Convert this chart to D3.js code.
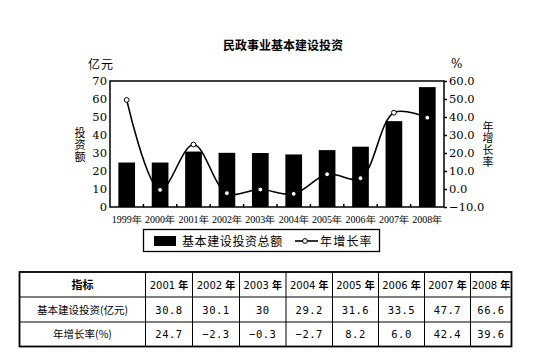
<!DOCTYPE html>
<html><head><meta charset="utf-8">
<script src="https://cdn.jsdelivr.net/npm/d3@7"></script>
<style>
html,body{margin:0;padding:0;background:#fff;}
svg{display:block;}
.serif{font-family:'Liberation Serif','Times New Roman',serif;}
.dserif{font-family:'DejaVu Serif',serif;}
.vert{writing-mode:vertical-rl;text-orientation:upright;}
</style></head>
<body>
<svg id="c" width="554" height="356"></svg>
<script>
const years = ["1999年","2000年","2001年","2002年","2003年","2004年","2005年","2006年","2007年","2008年"];
const investment = [24.7, 24.7, 30.8, 30.1, 30, 29.2, 31.6, 33.5, 47.7, 66.6];
const growth = [49.5, -0.5, 24.7, -2.3, -0.3, -2.7, 8.2, 6.0, 42.4, 39.6];
const leftTicks = [0,10,20,30,40,50,60,70];
const rightTicks = [-10,0,10,20,30,40,50,60];
const tableYears = ["2001 年","2002 年","2003 年","2004 年","2005 年","2006 年","2007 年","2008 年"];
const tableInvest = ["30.8","30.1","30","29.2","31.6","33.5","47.7","66.6"];
const tableGrowth = ["24.7","−2.3","−0.3","−2.7","8.2","6.0","42.4","39.6"];
const rowLabels = ["指标","基本建设投资(亿元)","年增长率(%)"];

const svg = d3.select("#c");
const CJK = "'Noto Sans CJK SC', sans-serif";
const L = 110, R = 444, T = 81, B = 207;

const x = d3.scaleBand().domain(years).range([L, R]).paddingInner(0.5).paddingOuter(0.25);
const yL = d3.scaleLinear().domain([0, 70]).range([B, T]);
const yR = d3.scaleLinear().domain([-10, 60]).range([B, T]);

// title
svg.append("text").attr("x", 283).attr("y", 50).attr("text-anchor", "middle")
  .style("font-family", CJK).attr("font-weight", "bold").attr("font-size", 12)
  .text("民政事业基本建设投资");

// bars
svg.append("g").selectAll("rect").data(investment).join("rect")
  .attr("x", (d, i) => x(years[i])).attr("width", x.bandwidth())
  .attr("y", d => yL(d)).attr("height", d => yL(0) - yL(d)).attr("fill", "#000");

// line
const line = d3.line().x((d, i) => x(years[i]) + x.bandwidth() / 2).y(d => yR(d))
  .curve(d3.curveCatmullRom.alpha(0.5));
svg.append("path").datum(growth).attr("d", line).attr("fill", "none")
  .attr("stroke", "#000").attr("stroke-width", 1.6);
svg.append("g").selectAll("circle").data(growth).join("circle")
  .attr("cx", (d, i) => x(years[i]) + x.bandwidth() / 2).attr("cy", d => yR(d))
  .attr("r", 2.4).attr("fill", "#fff").attr("stroke", "#000").attr("stroke-width", 1);

// frame
svg.append("rect").attr("x", L).attr("y", T).attr("width", R - L).attr("height", B - T)
  .attr("fill", "none").attr("stroke", "#000").attr("stroke-width", 1.5);

// left axis
const gl = svg.append("g").attr("transform", `translate(${L},0)`)
  .call(d3.axisLeft(yL).tickValues(leftTicks).tickSize(0).tickPadding(3));
gl.attr("font-family", null).attr("font-size", null);
gl.select(".domain").remove();
gl.selectAll("text").attr("class", "dserif").style("font-size", "11.5px").attr("fill", "#000");

// right axis
const gr = svg.append("g").attr("transform", `translate(${R},0)`)
  .call(d3.axisRight(yR).tickValues(rightTicks).tickFormat(d3.format(".1f")).tickSize(3).tickPadding(2));
gr.attr("font-family", null).attr("font-size", null);
gr.select(".domain").remove();
gr.selectAll("line").attr("stroke-width", 1.5);
gr.selectAll("text").attr("class", "dserif").style("font-size", "11.5px").attr("fill", "#000");

// bottom axis
const gb = svg.append("g").attr("transform", `translate(0,${B})`)
  .call(d3.axisBottom(x).tickSize(0).tickPadding(9));
gb.attr("font-family", null).attr("font-size", null);
gb.select(".domain").remove();
gb.selectAll("text").attr("class", "serif").style("font-size", "10px").attr("fill", "#000");
// inner ticks at category boundaries
svg.append("g").selectAll("line").data(years.slice(1)).join("line")
  .attr("x1", d => x(d) - x.step() * 0.25).attr("x2", d => x(d) - x.step() * 0.25)
  .attr("y1", B).attr("y2", B - 3).attr("stroke", "#000").attr("stroke-width", 1.5);

// units and axis titles
svg.append("text").attr("x", 88).attr("y", 69).style("font-family", CJK).attr("font-size", 12)
  .attr("letter-spacing", 1).text("亿元");
svg.append("text").attr("x", 451).attr("y", 68).attr("class", "dserif").attr("font-size", 12).text("%");
svg.append("text").attr("class", "vert").attr("x", 80).attr("y", 127)
  .style("font-family", CJK).attr("font-size", 11).attr("letter-spacing", 1).text("投资额");
svg.append("text").attr("class", "vert").attr("x", 488).attr("y", 121)
  .style("font-family", CJK).attr("font-size", 11).attr("letter-spacing", 0.7).text("年增长率");

// legend
const lg = svg.append("g");
lg.append("rect").attr("x", 143.5).attr("y", 229.5).attr("width", 236).attr("height", 22)
  .attr("fill", "#fff").attr("stroke", "#000").attr("stroke-width", 1.3);
lg.append("rect").attr("x", 154).attr("y", 236).attr("width", 22).attr("height", 10).attr("fill", "#000");
lg.append("text").attr("x", 182).attr("y", 245.5).style("font-family", CJK).attr("font-size", 12)
  .attr("letter-spacing", 0.6).text("基本建设投资总额");
lg.append("line").attr("x1", 295).attr("x2", 318).attr("y1", 241).attr("y2", 241)
  .attr("stroke", "#000").attr("stroke-width", 1.6);
lg.append("circle").attr("cx", 305).attr("cy", 241).attr("r", 2.4).attr("fill", "#fff")
  .attr("stroke", "#000").attr("stroke-width", 1);
lg.append("text").attr("x", 320).attr("y", 245.5).style("font-family", CJK).attr("font-size", 12)
  .attr("letter-spacing", 1.2).text("年增长率");

// table
const colX = [19.5, 145.5, 192.5, 239.5, 286, 332.5, 378.5, 424.5, 470.5, 511.5];
const rowY = [272, 297, 322, 346.5];
const tb = svg.append("g");
rowY.slice(1, 3).forEach(yv => tb.append("line").attr("x1", colX[0]).attr("x2", colX[9])
  .attr("y1", yv).attr("y2", yv).attr("stroke", "#000").attr("stroke-width", 1));
colX.slice(1, 9).forEach(xv => tb.append("line").attr("x1", xv).attr("x2", xv)
  .attr("y1", rowY[0]).attr("y2", rowY[3]).attr("stroke", "#000").attr("stroke-width", 1));
tb.append("rect").attr("x", colX[0]).attr("y", rowY[0]).attr("width", colX[9] - colX[0])
  .attr("height", rowY[3] - rowY[0]).attr("fill", "none").attr("stroke", "#000").attr("stroke-width", 1.8);

const rows = [tableYears, tableInvest, tableGrowth];
rowLabels.forEach((lab, r) => {
  const cy = (rowY[r] + rowY[r + 1]) / 2 + 4;
  tb.append("text").attr("x", (colX[0] + colX[1]) / 2).attr("y", cy).attr("text-anchor", "middle")
    .style("font-family", CJK).attr("font-size", r === 0 ? 11 : 10.5).attr("font-weight", r === 0 ? "bold" : "normal")
    .text(lab);
  rows[r].forEach((v, c) => {
    const t = tb.append("text").attr("x", (colX[c + 1] + colX[c + 2]) / 2).attr("y", cy)
      .attr("text-anchor", "middle").attr("font-size", 10);
    if (r === 0) {
      const parts = v.split(" ");
      t.append("tspan").style("font-family", "'DejaVu Sans', sans-serif").text(parts[0] + " ");
      t.append("tspan").style("font-family", CJK).attr("font-weight", "bold").text(parts[1]);
    } else {
      t.style("font-family", "'DejaVu Sans Mono', monospace").attr("font-size", 10.5)
        .attr("letter-spacing", 0.5).text(v);
    }
  });
});
</script>
</body></html>
